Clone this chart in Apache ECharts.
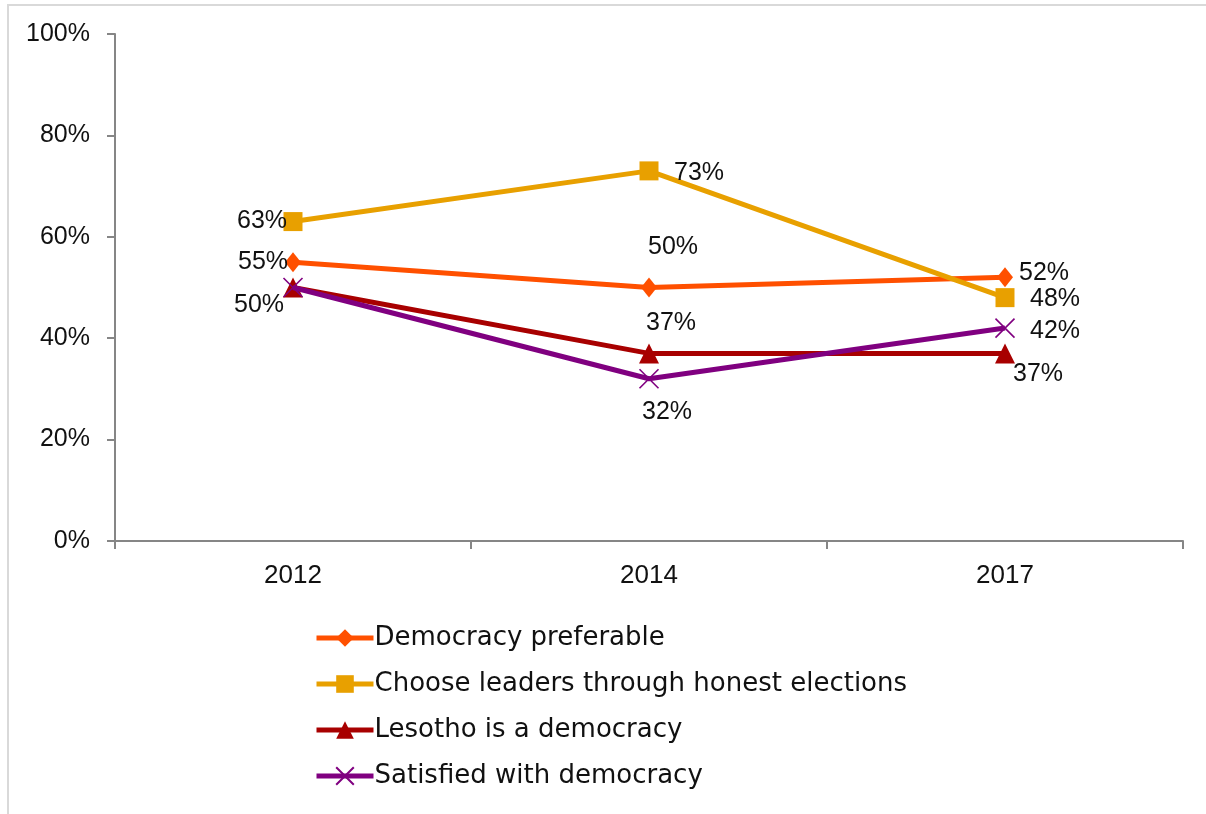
<!DOCTYPE html>
<html>
<head>
<meta charset="utf-8">
<script src="https://cdn.jsdelivr.net/npm/echarts@6/dist/echarts.min.js"></script>
<style>
  html, body { margin: 0; padding: 0; background: #fff; }
  #chart { width: 1206px; height: 814px; }
</style>
</head>
<body>
<div id="chart"></div>
<script>
// Survey years
const years = ['2012', '2014', '2017'];

// Share of respondents (%)
const democracyPreferable = [55, 50, 52];
const honestElections = [63, 73, 48];
const lesothoIsDemocracy = [50, 37, 37];
const satisfiedWithDemocracy = [50, 32, 42];

const seriesNames = [
  'Democracy preferable',
  'Choose leaders through honest elections',
  'Lesotho is a democracy',
  'Satisfied with democracy'
];

// Value-label placement around each point [dx, dy]; null hides the label
const labelOffsets = [
  [[-30, 0], [24, -40], [39, -4]],
  [[-31, 0], [50, 2], [50, 1]],
  [[-34, 18], [22, -30], [33, 21]],
  [null, [18, 33], [50, 3]]
];

const colors = ['#FF5000', '#E8A000', '#A80000', '#800080'];
const symbols = ['diamond', 'rect', 'triangle', 'path://M0,0L10,10M10,0L0,10'];
const symbolSizes = [[16, 20], 19, 20, 19];

const numberFont = 'Liberation Sans';
const legendFont = 'DejaVu Sans';

function buildSeries(values, idx) {
  return {
    name: seriesNames[idx],
    type: 'line',
    data: values.map((v, i) => {
      const off = labelOffsets[idx][i];
      return {
        value: v,
        label: off ? { show: true, position: 'inside', offset: off } : { show: false }
      };
    }),
    symbol: symbols[idx],
    symbolSize: symbolSizes[idx],
    showAllSymbol: true,
    color: colors[idx],
    lineStyle: { color: colors[idx], width: 5 },
    itemStyle: idx === 3
      ? { color: colors[idx], borderColor: colors[idx], borderWidth: 1.6 }
      : { color: colors[idx], borderWidth: 0 },
    label: {
      formatter: p => p.value + '%',
      color: '#111',
      fontFamily: numberFont,
      fontSize: 25
    },
    emphasis: { disabled: true },
    animation: false,
    z: 2 + idx
  };
}

const chart = echarts.init(document.getElementById('chart'), null, { renderer: 'canvas' });

chart.setOption({
  backgroundColor: '#fff',
  animation: false,
  graphic: [
    {
      type: 'rect',
      shape: { x: 8, y: 5, width: 1300, height: 900 },
      style: { fill: 'none', stroke: '#D9D9D9', lineWidth: 2 },
      silent: true,
      z: -10
    }
  ],
  grid: { left: 115, right: 23, top: 34, bottom: 273, containLabel: false },
  legend: {
    orient: 'vertical',
    left: 314,
    top: 625,
    padding: 0,
    itemWidth: 57,
    itemHeight: 22,
    itemGap: 20,
    lineStyle: { width: 5 },
    textStyle: { fontFamily: legendFont, fontSize: 26, color: '#111', padding: [0, 0, 0, -4] },
    data: seriesNames
  },
  xAxis: {
    type: 'category',
    data: years,
    boundaryGap: true,
    axisLine: { lineStyle: { color: '#868686', width: 2 } },
    axisTick: { show: true, length: 8, lineStyle: { color: '#868686', width: 2 } },
    axisLabel: { fontFamily: numberFont, fontSize: 26, color: '#111', margin: 22 },
    splitLine: { show: false }
  },
  yAxis: {
    type: 'value',
    min: 0,
    max: 100,
    interval: 20,
    axisLine: { show: true, lineStyle: { color: '#868686', width: 2 } },
    axisTick: { show: true, length: 8, lineStyle: { color: '#868686', width: 2 } },
    axisLabel: {
      fontFamily: numberFont, fontSize: 25, color: '#111', margin: 25,
      formatter: v => v + '%'
    },
    splitLine: { show: false }
  },
  series: [
    buildSeries(democracyPreferable, 0),
    buildSeries(honestElections, 1),
    buildSeries(lesothoIsDemocracy, 2),
    buildSeries(satisfiedWithDemocracy, 3)
  ]
});
</script>
</body>
</html>
